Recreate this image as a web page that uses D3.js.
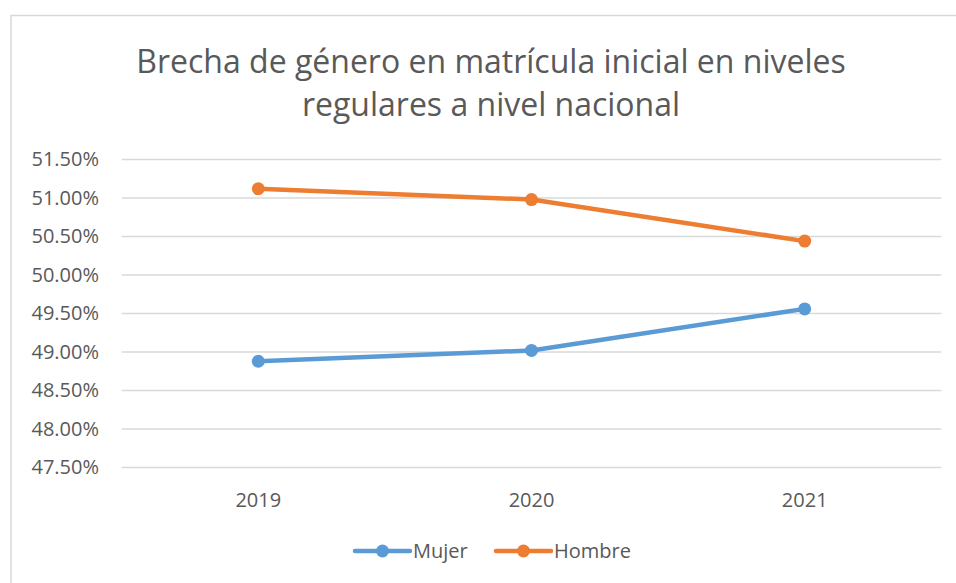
<!DOCTYPE html>
<html>
<head>
<meta charset="utf-8">
<script src="https://cdn.jsdelivr.net/npm/d3@7"></script>
<style>
  body { margin: 0; background: #fff; }
  text { font-family: "Open Sans", Lato, sans-serif; fill: #595959; }
</style>
</head>
<body>
<div id="chart"></div>
<script>
// Data
const years = ["2019", "2020", "2021"];
const mujer = [48.88, 49.02, 49.56];
const hombre = [51.12, 50.98, 50.44];
const yTicks = [47.5, 48, 48.5, 49, 49.5, 50, 50.5, 51, 51.5];
const titleLines = ["Brecha de género en matrícula inicial en niveles", "regulares a nivel nacional"];

const series = [
  { name: "Mujer", values: mujer, color: "#5B9BD5" },
  { name: "Hombre", values: hombre, color: "#ED7D31" }
];

const svg = d3.select("#chart")
  .append("svg")
  .attr("width", 956)
  .attr("height", 583);

// chart area border (runs off right and bottom)
svg.append("rect")
  .attr("x", 11)
  .attr("y", 15.5)
  .attr("width", 1000)
  .attr("height", 700)
  .attr("fill", "#fff")
  .attr("stroke", "#d9d9d9")
  .attr("stroke-width", 1.5);

// Scales
const xScale = d3.scaleBand().domain(years).range([121.7, 941.3]);
const yScale = d3.scaleLinear().domain([47.5, 51.5]).range([467.5, 159.5]);

// Title
svg.append("g")
  .selectAll("text")
  .data(titleLines)
  .join("text")
  .attr("x", 491)
  .attr("y", function (d, i) { return 73 + i * 43; })
  .attr("text-anchor", "middle")
  .style("font-size", "32px")
  .text(function (d) { return d; });

// Gridlines
svg.append("g")
  .selectAll("line")
  .data(yTicks)
  .join("line")
  .attr("x1", 121.7)
  .attr("x2", 941.3)
  .attr("y1", function (d) { return yScale(d); })
  .attr("y2", function (d) { return yScale(d); })
  .attr("stroke", "#d9d9d9")
  .attr("stroke-width", 1.5);

// Y axis
const yAxis = d3.axisLeft(yScale)
  .tickValues(yTicks)
  .tickSize(0)
  .tickPadding(0)
  .tickFormat(function (d) { return d3.format(".2f")(d) + "%"; });

svg.append("g")
  .attr("class", "y-axis")
  .attr("transform", "translate(99, 0)")
  .call(yAxis)
  .call(function (g) { g.select(".domain").remove(); })
  .selectAll("text")
  .style("font-size", "20px")
  .attr("fill", "#595959");

// X axis
const xAxis = d3.axisBottom(xScale).tickSize(0).tickPadding(0);
svg.append("g")
  .attr("class", "x-axis")
  .attr("transform", "translate(0, 492.5)")
  .call(xAxis)
  .call(function (g) { g.select(".domain").remove(); })
  .selectAll("text")
  .style("font-size", "20px")
  .attr("fill", "#595959");

// Lines
const line = d3.line()
  .x(function (d, i) { return xScale(years[i]) + xScale.bandwidth() / 2; })
  .y(function (d) { return yScale(d); });

series.forEach(function (s) {
  svg.append("path")
    .datum(s.values)
    .attr("fill", "none")
    .attr("stroke", s.color)
    .attr("stroke-width", 4.5)
    .attr("stroke-linejoin", "round")
    .attr("stroke-linecap", "round")
    .attr("d", line);

  svg.append("g")
    .selectAll("circle")
    .data(s.values)
    .join("circle")
    .attr("cx", function (d, i) { return xScale(years[i]) + xScale.bandwidth() / 2; })
    .attr("cy", function (d) { return yScale(d); })
    .attr("r", 6.5)
    .attr("fill", s.color);
});

// Legend
const legendX = [355, 496];
series.forEach(function (s, i) {
  const g = svg.append("g").attr("transform", "translate(" + legendX[i] + ", 551)");
  g.append("line")
    .attr("x1", 0).attr("x2", 55)
    .attr("stroke", s.color)
    .attr("stroke-width", 4.5)
    .attr("stroke-linecap", "round");
  g.append("circle")
    .attr("cx", 27.5)
    .attr("r", 6.5)
    .attr("fill", s.color);
  g.append("text")
    .attr("x", 58)
    .attr("y", 7)
    .style("font-size", "20px")
    .text(s.name);
});
</script>
</body>
</html>
